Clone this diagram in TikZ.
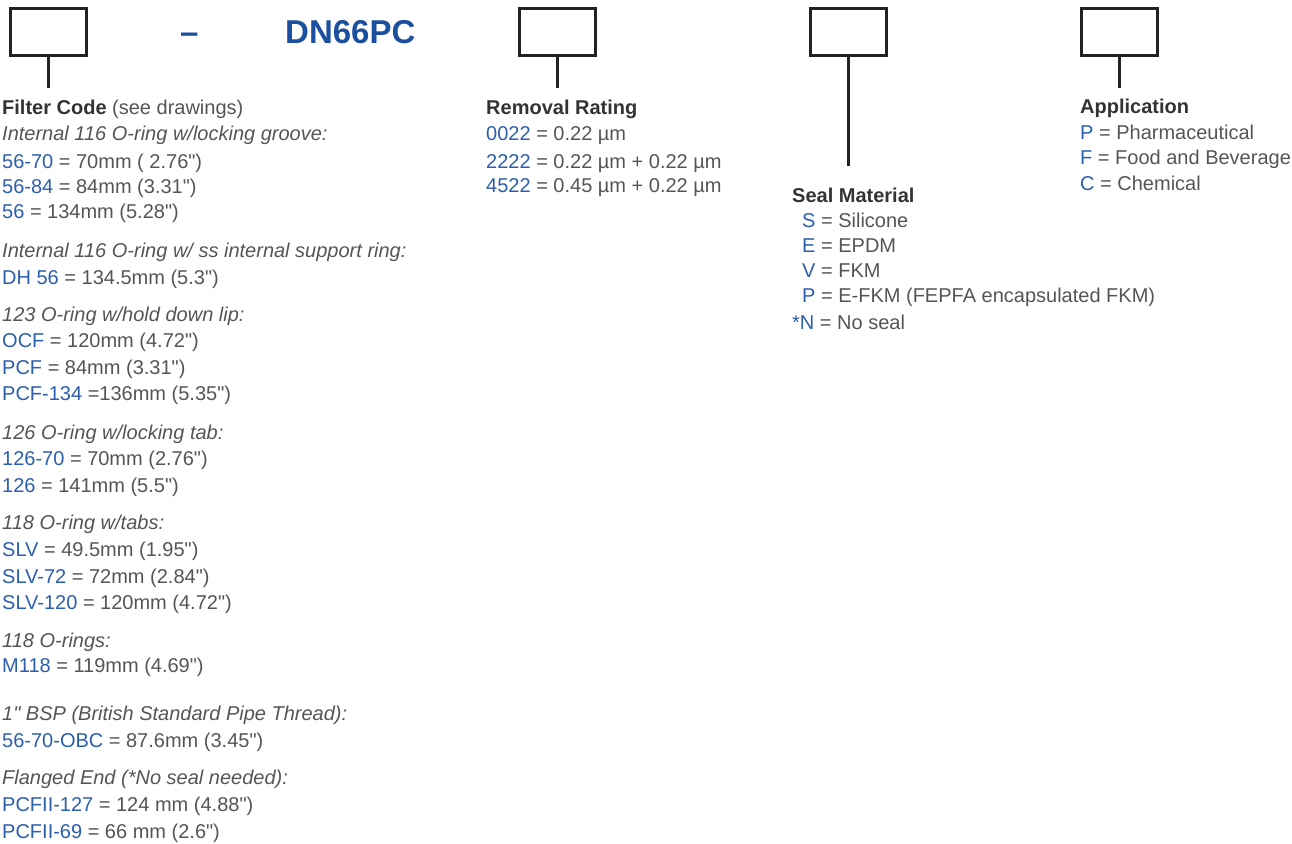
\documentclass[tikz,border=0pt]{standalone}
\usepackage{fontspec}
\setmainfont{Liberation Sans}[Ligatures=TeXOff]
\usetikzlibrary{positioning}
\definecolor{codeblue}{HTML}{2C5EAE}
\definecolor{titleblue}{HTML}{1B4F9F}
\definecolor{bodygray}{HTML}{555555}
\definecolor{headgray}{HTML}{333333}
\definecolor{boxgray}{HTML}{222222}
\newcommand{\cd}[1]{\textcolor{codeblue}{#1}}
\newcommand{\hd}[1]{{\bfseries\color{headgray}#1}}

\begin{document}
\begin{tikzpicture}[x=1pt,y=-1pt,
	box/.style={rectangle, draw=boxgray, line width=3pt, minimum width=76pt, minimum height=47pt, inner sep=0pt},
	stem/.style={draw=boxgray, line width=3pt},
	txt/.style={anchor=base west, inner sep=0pt, text=bodygray, font=\fontsize{20}{24}\selectfont},
	head/.style={txt, text=headgray, font=\fontsize{20}{24}\selectfont\bfseries},
	sub/.style={txt, font=\fontsize{20}{24}\selectfont\itshape},
	title/.style={anchor=base west, inner sep=0pt, text=titleblue, font=\fontsize{33}{36}\selectfont\bfseries}]
	
	\useasboundingbox (0,0) rectangle (1292,843);
	
	%Boxes
	\node[box]	(filter)	at (48,32.5)	{};
	\node[box]	(rating)	at (557,32.5)	{};
	\node[box]	(seal)	at (848,32.5)	{};
	\node[box]	(application)	at (1119,32.5)	{};
	\node[title]	(dash)	at (180,44)	{–};
	\node[title]	(part)	at (285,44)	{DN66PC};
	
	\coordinate	(filterend)	at (48,88);
	\coordinate	(ratingend)	at (557,88);
	\coordinate	(sealend)	at (848,166);
	\coordinate	(applicationend)	at (1119,88);
	
	%Filter code
	\node[txt]	(fchead)	at (2,114)	{\hd{Filter Code} (see drawings)};
	\node[sub]	(fcA)	at (2,140)	{Internal 116 O-ring w/locking groove:};
	\node[txt]	(fcA1)	at (2,168)	{\cd{56-70} = 70mm ( 2.76")};
	\node[txt]	(fcA2)	at (2,193)	{\cd{56-84} = 84mm (3.31")};
	\node[txt]	(fcA3)	at (2,218)	{\cd{56} = 134mm (5.28")};
	\node[sub]	(fcB)	at (2,257)	{Internal 116 O-ring w/ ss internal support ring:};
	\node[txt]	(fcB1)	at (2,284)	{\cd{DH 56} = 134.5mm (5.3")};
	\node[sub]	(fcC)	at (2,321)	{123 O-ring w/hold down lip:};
	\node[txt]	(fcC1)	at (2,347)	{\cd{OCF} = 120mm (4.72")};
	\node[txt]	(fcC2)	at (2,374)	{\cd{PCF} = 84mm (3.31")};
	\node[txt]	(fcC3)	at (2,400)	{\cd{PCF-134} =136mm (5.35")};
	\node[sub]	(fcD)	at (2,439)	{126 O-ring w/locking tab:};
	\node[txt]	(fcD1)	at (2,465)	{\cd{126-70} = 70mm (2.76")};
	\node[txt]	(fcD2)	at (2,492)	{\cd{126} = 141mm (5.5")};
	\node[sub]	(fcE)	at (2,529)	{118 O-ring w/tabs:};
	\node[txt]	(fcE1)	at (2,556)	{\cd{SLV} = 49.5mm (1.95")};
	\node[txt]	(fcE2)	at (2,583)	{\cd{SLV-72} = 72mm (2.84")};
	\node[txt]	(fcE3)	at (2,609)	{\cd{SLV-120} = 120mm (4.72")};
	\node[sub]	(fcF)	at (2,647)	{118 O-rings:};
	\node[txt]	(fcF1)	at (2,672)	{\cd{M118} = 119mm (4.69")};
	\node[sub]	(fcG)	at (2,720)	{1" BSP (British Standard Pipe Thread):};
	\node[txt]	(fcG1)	at (2,747)	{\cd{56-70-OBC} = 87.6mm (3.45")};
	\node[sub]	(fcH)	at (2,784)	{Flanged End (*No seal needed):};
	\node[txt]	(fcH1)	at (2,811)	{\cd{PCFII-127} = 124 mm (4.88")};
	\node[txt]	(fcH2)	at (2,838)	{\cd{PCFII-69} = 66 mm (2.6")};
	
	%Removal rating
	\node[head]	(rrhead)	at (486,114)	{Removal Rating};
	\node[txt]	(rr1)	at (486,140)	{\cd{0022} = 0.22 µm};
	\node[txt]	(rr2)	at (486,168)	{\cd{2222} = 0.22 µm + 0.22 µm};
	\node[txt]	(rr3)	at (486,192)	{\cd{4522} = 0.45 µm + 0.22 µm};
	
	%Seal material
	\node[head]	(smhead)	at (792,202)	{Seal Material};
	\node[txt]	(sm1)	at (802,227)	{\cd{S} = Silicone};
	\node[txt]	(sm2)	at (802,252)	{\cd{E} = EPDM};
	\node[txt]	(sm3)	at (802,277)	{\cd{V} = FKM};
	\node[txt]	(sm4)	at (802,302)	{\cd{P} = E-FKM (FEPFA encapsulated FKM)};
	\node[txt]	(sm5)	at (792,329)	{\cd{*N} = No seal};
	
	%Application
	\node[head]	(aphead)	at (1080,113)	{Application};
	\node[txt]	(ap1)	at (1080,139)	{\cd{P} = Pharmaceutical};
	\node[txt]	(ap2)	at (1080,164)	{\cd{F} = Food and Beverage};
	\node[txt]	(ap3)	at (1080,190)	{\cd{C} = Chemical};
	
	%Lines
	\draw[stem] (filter.south) -- (filterend);
	\draw[stem] (rating.south) -- (ratingend);
	\draw[stem] (seal.south) -- (sealend);
	\draw[stem] (application.south) -- (applicationend);
\end{tikzpicture}
\end{document}
